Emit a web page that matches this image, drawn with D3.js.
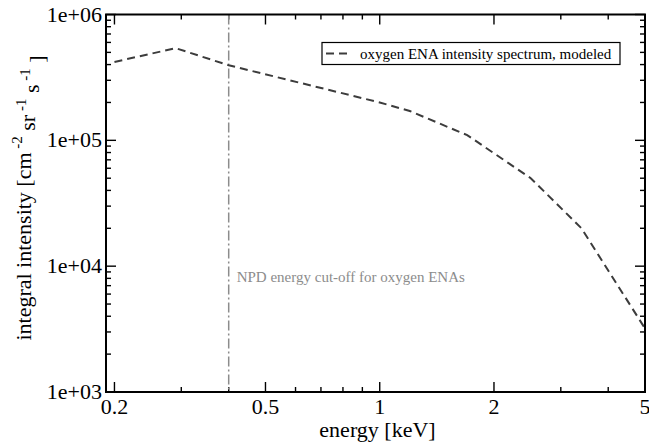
<!DOCTYPE html>
<meta charset="utf-8">
<script src="https://d3js.org/d3.v7.min.js"></script>
<style>
  body { margin: 0; background: #fff; }
</style>
<div id="my_dataviz"></div>
<script>

// energy [keV] and modeled oxygen ENA integral intensity
const energy    = [0.2,   0.29,  0.4,    1.0,   1.2,    1.7,   2.5,   3.4,   5.0];
const intensity = [4.2e5, 5.4e5, 3.95e5, 2.0e5, 1.71e5, 1.1e5, 5.0e4, 2.0e4, 3.2e3];

const cutoff = 0.4;               // NPD energy cut-off
const xMajor = [0.2, 0.5, 1, 2, 5];
const xMinor = [0.3, 0.4, 0.6, 0.7, 0.8, 0.9, 3, 4];
const yMajor = [1e3, 1e4, 1e5, 1e6];
const yLabels = ["1e+03", "1e+04", "1e+05", "1e+06"];

const serif = "'Liberation Serif', 'Times New Roman', Times, 'DejaVu Serif', serif";

const W = 649, H = 443;
const margin = {top: 14.5, right: 4, bottom: 51, left: 106};
const width = W - margin.left - margin.right,
      height = H - margin.top - margin.bottom;

const svg = d3.select("#my_dataviz")
  .append("svg")
    .attr("width", W)
    .attr("height", H)
    .style("font-family", serif)
  .append("g")
    .attr("transform", `translate(${margin.left}, ${margin.top})`);

const x = d3.scaleLog().domain([0.19, 5]).range([0, width]);
const y = d3.scaleLog().domain([1e3, 1e6]).range([height, 0]);

// y minor ticks: 2..9 per decade
const yMinor = [];
for (let d = 1e3; d < 1e6; d *= 10)
  for (let k = 2; k <= 9; k++) yMinor.push(d * k);

// ticks drawn inward on all four sides
function ticksX(vals, len) {
  svg.append("g").selectAll("line").data(vals).join("line")
    .attr("x1", d => x(d)).attr("x2", d => x(d))
    .attr("y1", height).attr("y2", height - len)
    .attr("stroke", "#000").attr("stroke-width", 1.4);
  svg.append("g").selectAll("line").data(vals).join("line")
    .attr("x1", d => x(d)).attr("x2", d => x(d))
    .attr("y1", 0).attr("y2", len)
    .attr("stroke", "#000").attr("stroke-width", 1.4);
}
function ticksY(vals, len) {
  svg.append("g").selectAll("line").data(vals).join("line")
    .attr("y1", d => y(d)).attr("y2", d => y(d))
    .attr("x1", 0).attr("x2", len)
    .attr("stroke", "#000").attr("stroke-width", 1.4);
  svg.append("g").selectAll("line").data(vals).join("line")
    .attr("y1", d => y(d)).attr("y2", d => y(d))
    .attr("x1", width).attr("x2", width - len)
    .attr("stroke", "#000").attr("stroke-width", 1.4);
}
ticksX(xMajor, 10); ticksX(xMinor, 5);
ticksY(yMajor, 10); ticksY(yMinor, 5);

// tick labels
svg.append("g").selectAll("text").data(xMajor).join("text")
  .attr("x", d => x(d))
  .attr("y", height + 21.5)
  .attr("text-anchor", "middle")
  .style("font-family", serif)
  .style("font-size", "22px")
  .text(d => d);

svg.append("g").selectAll("text").data(yMajor).join("text")
  .attr("x", -4)
  .attr("y", d => y(d))
  .attr("dy", "0.32em")
  .attr("text-anchor", "end")
  .style("font-family", serif)
  .style("font-size", "22px")
  .text((d, i) => yLabels[i]);

// cut-off line
svg.append("line")
  .attr("x1", x(cutoff)).attr("x2", x(cutoff))
  .attr("y1", 0).attr("y2", height)
  .attr("stroke", "#8c8c8c").attr("stroke-width", 1.5)
  .attr("stroke-dasharray", "10,3,2,3");

svg.append("text")
  .attr("x", x(cutoff) + 8)
  .attr("y", y(7.5e3))
  .attr("fill", "#8c8c8c")
  .style("font-family", serif)
  .style("font-size", "15px")
  .text("NPD energy cut-off for oxygen ENAs");

// spectrum
const line = d3.line()
  .x((d, i) => x(energy[i]))
  .y(d => y(d));

svg.append("path")
  .datum(intensity)
  .attr("fill", "none")
  .attr("stroke", "#3c3c3c")
  .attr("stroke-width", 2)
  .attr("stroke-dasharray", "8,5")
  .attr("d", line);

// frame
svg.append("rect")
  .attr("width", width).attr("height", height)
  .attr("fill", "none").attr("stroke", "#000").attr("stroke-width", 2);

// legend
const lg = svg.append("g").attr("transform", `translate(${322 - margin.left}, ${42.5 - margin.top})`);
lg.append("rect")
  .attr("width", 298).attr("height", 22)
  .attr("fill", "#fff").attr("stroke", "#000").attr("stroke-width", 1.2);
lg.append("line")
  .attr("x1", 4).attr("x2", 28).attr("y1", 11).attr("y2", 11)
  .attr("stroke", "#3c3c3c").attr("stroke-width", 2)
  .attr("stroke-dasharray", "8,5");
lg.append("text")
  .attr("x", 38).attr("y", 16)
  .style("font-family", serif)
  .style("font-size", "15px")
  .text("oxygen ENA intensity spectrum, modeled");

// axis titles
svg.append("text")
  .attr("x", width / 2 + 2)
  .attr("y", height + 45)
  .attr("text-anchor", "middle")
  .style("font-family", serif)
  .style("font-size", "22px")
  .text("energy [keV]");

const yt = svg.append("text")
  .attr("transform", `translate(${31 - margin.left}, ${198 - margin.top}) rotate(-90)`)
  .attr("text-anchor", "middle")
  .style("font-family", serif)
  .style("font-size", "22px");
yt.append("tspan").text("integral intensity [cm");
yt.append("tspan").attr("dy", "-0.6em").style("font-size", "15px").text(" -2");
yt.append("tspan").attr("dy", "0.6em").text(" sr");
yt.append("tspan").attr("dy", "-0.6em").style("font-size", "15px").text(" -1");
yt.append("tspan").attr("dy", "0.6em").text(" s");
yt.append("tspan").attr("dy", "-0.6em").style("font-size", "15px").text(" -1");
yt.append("tspan").attr("dy", "0.6em").text(" ]");

</script>
